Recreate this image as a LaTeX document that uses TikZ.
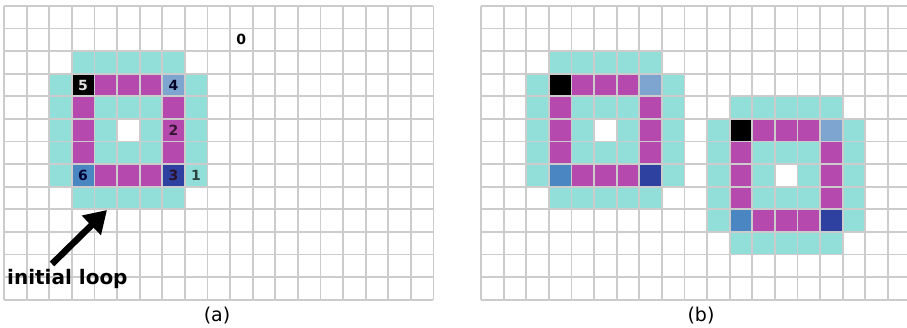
\documentclass[tikz,border=0pt]{standalone}
\usepackage{fontspec}
\setmainfont{DejaVu Sans}
\usetikzlibrary{arrows.meta}
\definecolor{cyanc}{HTML}{91DFD8}
\definecolor{magc}{HTML}{B649AD}
\definecolor{lbluec}{HTML}{7DA5D0}
\definecolor{sbluec}{HTML}{4A86C2}
\definecolor{dbluec}{HTML}{2E40A0}
\definecolor{gridc}{HTML}{CCCCCC}
\newcommand\cellsz{22.6}
% #1 grid origin x, #2 col, #3 row, #4 ncols, #5 nrows, #6 colour
\newcommand\fillcells[6]{\fill[#6] ({#1+(#2)*\cellsz},{6+(#3)*\cellsz}) rectangle ({#1+(#2+#4)*\cellsz},{6+(#3+#5)*\cellsz});}
% loop with outer top-left at col #2,row #3 in grid with origin x #1
\newcommand\drawloop[3]{%
  \fillcells{#1}{#2+1}{#3}{5}{7}{cyanc}
  \fillcells{#1}{#2}{#3+1}{7}{5}{cyanc}
  \fillcells{#1}{#2+1}{#3+1}{5}{5}{magc}
  \fillcells{#1}{#2+2}{#3+2}{3}{3}{cyanc}
  \fillcells{#1}{#2+3}{#3+3}{1}{1}{white}
  \fillcells{#1}{#2+1}{#3+1}{1}{1}{black}
  \fillcells{#1}{#2+5}{#3+1}{1}{1}{lbluec}
  \fillcells{#1}{#2+1}{#3+5}{1}{1}{sbluec}
  \fillcells{#1}{#2+5}{#3+5}{1}{1}{dbluec}
}
\newcommand\drawgrid[1]{%
  \foreach \i in {0,...,19}{\draw[gridc,line width=1.8pt] ({#1+\i*\cellsz},6) -- ({#1+\i*\cellsz},{6+13*\cellsz});}
  \foreach \j in {0,...,13}{\draw[gridc,line width=1.8pt] (#1,{6+\j*\cellsz}) -- ({#1+19*\cellsz},{6+\j*\cellsz});}
}
\tikzset{
  num/.style={font=\bfseries\fontsize{14}{14}\selectfont, inner sep=0pt},
  captext/.style={font=\fontsize{19}{19}\selectfont, inner sep=0pt},
}
\begin{document}
\begin{tikzpicture}[x=1pt,y=-1pt]
\useasboundingbox (0,0) rectangle (907,328);
\fill[white] (0,0) rectangle (907,328);
% (a)
\drawloop{4}{2}{2}
\drawgrid{4}
% (b)
\begin{scope}
\clip (0,0) rectangle (907,328);
\drawloop{481}{2}{2}
\drawloop{481}{10}{4}
\drawgrid{481}
\end{scope}
% numbers in (a)
\node[num, text=white!88!black] (n5) at ({4+3.5*\cellsz},{6+3.5*\cellsz}) {5};
\node[num, text=black!85!blue] (n4) at ({4+7.5*\cellsz},{6+3.5*\cellsz}) {4};
\node[num, text=black!70!magc] (n2) at ({4+7.5*\cellsz},{6+5.5*\cellsz}) {2};
\node[num, text=black!80!blue] (n6) at ({4+3.5*\cellsz},{6+7.5*\cellsz}) {6};
\node[num, text=black!75!magc] (n3) at ({4+7.5*\cellsz},{6+7.5*\cellsz}) {3};
\node[num, text=black!70!cyanc] (n1) at ({4+8.5*\cellsz},{6+7.5*\cellsz}) {1};
\node[num, text=black] (n0) at ({4+10.5*\cellsz},{6+1.5*\cellsz}) {0};
% initial loop arrow
\node[font=\bfseries\fontsize{20}{20}\selectfont, inner sep=0pt, anchor=base west] (lbl) at (7,285) {initial loop};
\coordinate (atail) at (52,264);
\coordinate (ahead) at (107,210);
\draw[line width=6.5pt, -{Triangle[length=22pt,width=26pt]}] (atail) -- (ahead);
% captions
\node[captext] (capa) at (217,316) {(a)};
\node[captext] (capb) at (701,316) {(b)};
\end{tikzpicture}
\end{document}
